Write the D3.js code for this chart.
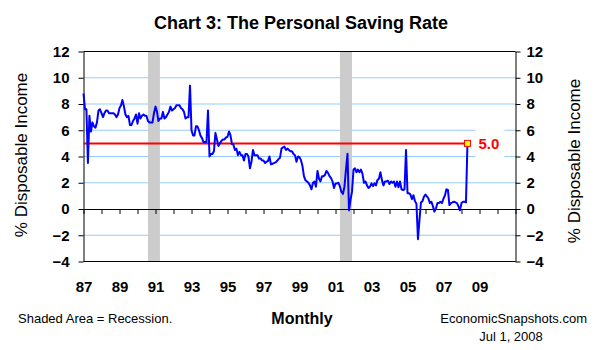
<!DOCTYPE html>
<html>
<head>
<meta charset="utf-8">
<script src="https://cdn.jsdelivr.net/npm/d3@7"></script>
<style>
  body { margin: 0; background: #fff; }
  svg { display: block; font-family: Arial, "Liberation Sans", sans-serif; }
</style>
</head>
<body>
<svg id="chart" width="600" height="350"></svg>
<script>
// personal saving rate, % of disposable income, monthly from Jan 1987
const startYear = 1987;
const savingRate = [
  8.8, 7.6, 7.6, 3.5, 7.1, 5.9, 6.6, 6.3, 6.2, 6.6, 7.5, 7.6,    // 1987
  7.3, 7.0, 7.3, 7.5, 7.5, 7.3, 7.3, 7.3, 7.3, 7.2, 7.0, 7.2,    // 1988
  7.7, 7.9, 8.3, 7.8, 7.2, 7.0, 7.1, 6.4, 6.4, 6.7, 6.9, 7.2,    // 1989
  6.5, 7.3, 6.9, 7.1, 7.2, 7.1, 7.1, 6.7, 6.6, 6.6, 6.6, 7.3,    // 1990
  7.8, 7.4, 6.7, 6.9, 6.9, 7.4, 6.9, 7.0, 7.2, 7.4, 7.8, 7.5,    // 1991
  7.6, 7.7, 7.9, 7.9, 7.9, 7.7, 7.6, 7.4, 6.9, 7.0, 7.0, 9.4,    // 1992
  6.0, 5.6, 5.6, 6.3, 6.3, 6.0, 5.6, 5.4, 5.1, 5.1, 5.1, 7.5,    // 1993
  4.0, 4.2, 4.2, 4.4, 5.8, 5.3, 4.8, 5.0, 5.2, 5.3, 5.3, 5.45,   // 1994
  5.5, 5.9, 5.65, 4.95, 4.9, 4.5, 4.6, 4.1, 4.35, 4.1, 4.1, 3.7, // 1995
  4.2, 4.2, 4.0, 3.1, 3.6, 4.5, 4.1, 4.1, 4.1, 3.85, 3.85, 3.7,  // 1996
  3.7, 3.5, 3.6, 3.65, 4.0, 3.4, 3.45, 3.5, 3.55, 3.65, 3.8, 3.9, // 1997
  4.6, 4.7, 4.75, 4.5, 4.6, 4.5, 4.4, 4.4, 4.2, 4.1, 3.6, 4.0,   // 1998
  3.95, 3.7, 3.3, 2.5, 2.2, 2.1, 2.0, 1.8, 1.5, 2.0, 2.1, 1.7,   // 1999
  2.9, 2.3, 2.1, 2.5, 2.5, 2.6, 2.9, 2.75, 2.5, 2.35, 2.1, 1.6,  // 2000
  1.95, 1.95, 2.0, 1.7, 1.3, 1.15, 1.7, 3.0, 4.2, -0.1, 0.7, 1.3, // 2001
  3.0, 3.1, 2.8, 3.0, 2.8, 3.0, 2.7, 2.0, 2.1, 1.8, 1.6, 1.7,    // 2002
  1.95, 1.75, 1.95, 1.8, 2.2, 2.3, 2.8, 2.2, 1.8, 2.1, 2.1, 2.15, // 2003
  1.9, 2.1, 2.0, 2.1, 1.7, 2.1, 1.65, 2.1, 1.5, 1.45, 1.5, 4.5,  // 2004
  1.2, 1.2, 1.1, 0.75, 1.05, 0.6, 0.4, -2.3, -0.8, 0.5, 0.6, 0.95, // 2005
  1.1, 0.95, 0.8, 0.45, 0.55, 0.2, -0.2, 0.05, 0.45, 0.45, 0.55, 0.45, // 2006
  0.8, 1.05, 1.5, 1.45, 0.3, 0.45, 0.5, 0.55, 0.5, 0.45, 0.2, -0.1, // 2007
  0.45, 0.55, 0.55, 0.5, 5.0                                      // 2008
];
const recessions = [["1990-08-01", "1991-04-01"], ["2001-04-01", "2001-12-01"]];
const yTicks = [-4, -2, 0, 2, 4, 6, 8, 10, 12];
const gridValues = [-2, 2, 4, 6, 8, 10];
const yearLabels = d3.range(1987, 2010, 2);

const title = "Chart 3: The Personal Saving Rate";
const yTitle = "% Disposable Income";

const svg = d3.select("#chart");
const parse = d3.timeParse("%Y-%m-%d");
const font = "Arial, 'Liberation Sans', sans-serif";

const data = savingRate.map((v, i) => ({ date: new Date(startYear, i, 1), value: v }));
const last = data[data.length - 1];

const plotLeft = 83.5, plotRight = 515.5, plotTop = 51.5, plotBottom = 261.5;

const x = d3.scaleTime()
  .domain([new Date(1987, 0, 1), new Date(2011, 0, 1)])
  .range([plotLeft, plotRight]);
const y = d3.scaleLinear().domain([-4, 12]).range([plotBottom, plotTop]);

// grid
svg.append("g").selectAll("line").data(gridValues).join("line")
  .attr("x1", plotLeft).attr("x2", plotRight)
  .attr("y1", d => y(d)).attr("y2", d => y(d))
  .attr("stroke", "#99ccff").attr("stroke-width", 1);

// recession shading
svg.append("g").selectAll("rect").data(recessions).join("rect")
  .attr("x", d => x(parse(d[0])))
  .attr("width", d => x(parse(d[1])) - x(parse(d[0])))
  .attr("y", plotTop).attr("height", plotBottom - plotTop)
  .attr("fill", "#cccccc");

// y axes
const yAxisL = svg.append("g").attr("transform", `translate(${plotLeft},0)`)
  .call(d3.axisLeft(y).tickValues(yTicks).tickSize(5).tickSizeOuter(0).tickPadding(9));
const yAxisR = svg.append("g").attr("transform", `translate(${plotRight},0)`)
  .call(d3.axisRight(y).tickValues(yTicks).tickSize(5).tickSizeOuter(0).tickPadding(6));
[yAxisL, yAxisR].forEach(a => {
  a.selectAll("text").attr("font-size", 15).attr("font-weight", "bold")
    .attr("font-family", font).attr("fill", "#000");
  a.selectAll("line,path").attr("stroke", "#000");
});

// frame top and bottom
svg.append("g").selectAll("line").data([12, -4]).join("line")
  .attr("x1", plotLeft).attr("x2", plotRight)
  .attr("y1", d => y(d)).attr("y2", d => y(d))
  .attr("stroke", "#000");

// zero line with year ticks
const xAxis = svg.append("g").attr("transform", `translate(0,${y(0)})`)
  .call(d3.axisBottom(x).ticks(d3.timeYear.every(1)).tickSize(5).tickSizeOuter(0).tickFormat(""));
xAxis.selectAll("line,path").attr("stroke", "#000");

// year labels
const xLabels = svg.append("g").attr("transform", "translate(0,281)")
  .call(d3.axisBottom(x).tickValues(yearLabels.map(yr => new Date(yr, 0, 1)))
    .tickSize(0).tickPadding(0).tickFormat(d3.timeFormat("%y")));
xLabels.select(".domain").remove();
xLabels.selectAll("text").attr("font-size", 15).attr("font-weight", "bold")
  .attr("font-family", font).attr("fill", "#000");

// latest value reference line
svg.append("line")
  .attr("x1", plotLeft).attr("x2", x(last.date))
  .attr("y1", y(last.value)).attr("y2", y(last.value))
  .attr("stroke", "#ff0000").attr("stroke-width", 2);

// series
svg.append("path").datum(data)
  .attr("fill", "none").attr("stroke", "#0000ff").attr("stroke-width", 2)
  .attr("stroke-linejoin", "round")
  .attr("d", d3.line().x(d => x(d.date)).y(d => y(d.value)));

// marker
svg.append("rect")
  .attr("x", x(last.date) - 3).attr("y", y(last.value) - 3)
  .attr("width", 6).attr("height", 6)
  .attr("fill", "#ffff00").attr("stroke", "#ff0000").attr("stroke-width", 1);

// label box
svg.append("rect")
  .attr("x", x(last.date) + 8).attr("y", y(last.value) - 16)
  .attr("width", 29).attr("height", 32).attr("fill", "#fff");
svg.append("text")
  .attr("x", x(last.date) + 11).attr("y", y(last.value) + 6)
  .attr("font-size", 15).attr("font-weight", "bold").attr("fill", "#ff0000")
  .text(d3.format(".1f")(last.value));

// titles
svg.append("text").attr("x", 301).attr("y", 29).attr("text-anchor", "middle")
  .attr("font-size", 18).attr("font-weight", "bold").text(title);
svg.append("text").attr("transform", "translate(27,155) rotate(-90)")
  .attr("text-anchor", "middle").attr("font-size", 17).text(yTitle);
svg.append("text").attr("transform", "translate(580,161) rotate(-90)")
  .attr("text-anchor", "middle").attr("font-size", 17).text(yTitle);

svg.append("text").attr("x", 18).attr("y", 323).attr("font-size", 13)
  .text("Shaded Area = Recession.");
svg.append("text").attr("x", 302).attr("y", 324).attr("text-anchor", "middle")
  .attr("font-size", 16).attr("font-weight", "bold").text("Monthly");
svg.append("text").attr("x", 587).attr("y", 323).attr("text-anchor", "end")
  .attr("font-size", 13).text("EconomicSnapshots.com");
svg.append("text").attr("x", 511).attr("y", 341).attr("text-anchor", "middle")
  .attr("font-size", 13).text("Jul 1, 2008");
</script>
</body>
</html>
